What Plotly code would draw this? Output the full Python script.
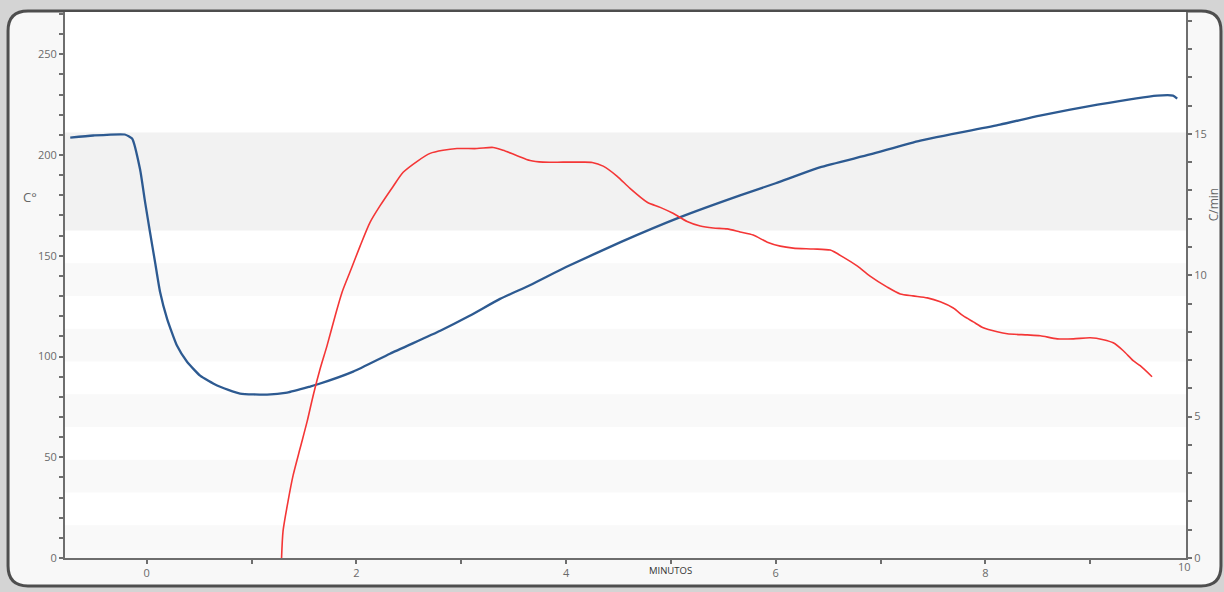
import plotly.graph_objects as go

# ---- data ----
temp_min = [-0.73, -0.51, -0.21, -0.14, -0.064, -0.016, 0.031, 0.079, 0.127, 0.194, 0.289,
            0.384, 0.509, 0.671, 0.89, 1.148, 1.339, 1.558, 1.625, 1.969, 2.32, 2.80, 3.08,
            3.37, 3.66, 4.0, 4.52, 5.09, 5.66, 6.0, 6.42, 6.90, 7.38, 8.14, 8.52, 9.07,
            9.64, 9.79, 9.83]
temp_c = [208.7, 209.7, 210.2, 208.2, 192.9, 176.6, 161.7, 146.9, 132.0, 118.7, 105.3,
          97.4, 90.5, 85.6, 81.6, 81.1, 82.1, 85.1, 86.1, 92.5, 101.4, 112.8, 120.2,
          128.6, 135.5, 144.4, 156.8, 169.2, 180.0, 186.0, 193.9, 200.3, 207.2, 215.1,
          219.6, 225.0, 229.5, 229.5, 228.0]

ror_min = [1.286, 1.30, 1.348, 1.396, 1.463, 1.53, 1.587, 1.654, 1.72, 1.797, 1.864, 1.95,
           2.035, 2.13, 2.226, 2.35, 2.446, 2.58, 2.703, 2.827, 2.96, 3.15, 3.304, 3.40,
           3.533, 3.657, 3.78, 3.97, 4.134, 4.249, 4.354, 4.488, 4.61, 4.774, 4.898, 5.02,
           5.155, 5.28, 5.404, 5.537, 5.66, 5.785, 5.92, 6.043, 6.167, 6.358, 6.52, 6.644,
           6.78, 6.9, 7.064, 7.188, 7.31, 7.446, 7.57, 7.694, 7.79, 7.885, 7.98, 8.113,
           8.209, 8.4, 8.524, 8.686, 8.84, 9.0, 9.126, 9.22, 9.316, 9.41, 9.477, 9.59]
ror_cmin = [0.0, 0.95, 2.01, 2.92, 3.88, 4.83, 5.74, 6.69, 7.51, 8.56, 9.41, 10.22,
            11.03, 11.87, 12.46, 13.14, 13.64, 14.03, 14.31, 14.42, 14.48, 14.48, 14.52, 14.42,
            14.23, 14.06, 14.0, 14.0, 14.0, 13.99, 13.86, 13.5, 13.07, 12.58, 12.4, 12.19,
            11.9, 11.74, 11.67, 11.64, 11.53, 11.42, 11.17, 11.03, 10.96, 10.93, 10.89, 10.64,
            10.32, 9.97, 9.58, 9.34, 9.27, 9.20, 9.06, 8.84, 8.56, 8.35, 8.14, 8.0,
            7.93, 7.89, 7.86, 7.75, 7.75, 7.79, 7.72, 7.61, 7.33, 6.98, 6.80, 6.41]

x_tick_vals = [0, 2, 4, 6, 8]
x_tick_text = ["0", "2", "4", "6", "8"]
y_left_ticks = [0, 50, 100, 150, 200, 250]
y_right_ticks = [0, 5, 10, 15]

# decorative band edges (left-axis units)
faint_bands = [(0, 16.25), (32.5, 48.75), (65, 81.25), (97.5, 113.75), (130, 146.25)]
main_band = (162.5, 211.25)

fig = go.Figure()
fig.add_trace(go.Scatter(x=temp_min, y=temp_c, mode="lines", yaxis="y",
                         line=dict(color="#2d5a91", width=2.3, shape="spline", smoothing=0.5),
                         showlegend=False))
fig.add_trace(go.Scatter(x=ror_min, y=ror_cmin, mode="lines", yaxis="y2",
                         line=dict(color="#f43636", width=1.6, shape="spline", smoothing=0.7),
                         showlegend=False))

shapes = []
# rounded frame
x0, x1, y0, y1 = -0.0508, 1.0312, -0.0511, 1.0018
rx, ry = 0.0178, 0.0365
path = (f"M {x0+rx},{y1} L {x1-rx},{y1} Q {x1},{y1} {x1},{y1-ry} "
        f"L {x1},{y0+ry} Q {x1},{y0} {x1-rx},{y0} L {x0+rx},{y0} "
        f"Q {x0},{y0} {x0},{y0+ry} L {x0},{y1-ry} Q {x0},{y1} {x0+rx},{y1} Z")
shapes.append(dict(type="path", path=path, xref="paper", yref="paper",
                   fillcolor="#f8f8f8", line=dict(color="#4e4e4e", width=3), layer="below"))
# plot area
shapes.append(dict(type="rect", xref="paper", yref="paper", x0=0, x1=1, y0=0, y1=1,
                   fillcolor="#ffffff", line=dict(width=0), layer="below"))
for a, b in faint_bands:
    shapes.append(dict(type="rect", xref="paper", yref="y", x0=0, x1=1, y0=a, y1=b,
                       fillcolor="#f9f9f9", line=dict(width=0), layer="below"))
shapes.append(dict(type="rect", xref="paper", yref="y", x0=0, x1=1,
                   y0=main_band[0], y1=main_band[1],
                   fillcolor="#f2f2f2", line=dict(width=0), layer="below"))

tickfont = dict(family="Open Sans", size=11, color="#6a6a6a")
axis_common = dict(showline=True, linecolor="#6e6e6e", linewidth=2, ticks="outside",
                   ticklen=4, tickwidth=1.5, tickcolor="#6e6e6e", showgrid=False,
                   zeroline=False, tickfont=tickfont, fixedrange=True)

fig.update_layout(
    width=1224, height=592,
    margin=dict(l=65, r=38, t=12, b=32),
    paper_bgcolor="#d4d4d4",
    plot_bgcolor="rgba(0,0,0,0)",
    shapes=shapes,
    xaxis=dict(range=[-0.78, 9.914], tickvals=x_tick_vals, ticktext=x_tick_text,
               minor=dict(dtick=1, tick0=0, ticks="outside", ticklen=4, tickcolor="#6e6e6e"),
               **axis_common),
    yaxis=dict(range=[0, 271], tickvals=y_left_ticks,
               minor=dict(dtick=10, tick0=0, ticks="outside", ticklen=4, tickcolor="#6e6e6e"),
               **axis_common),
    yaxis2=dict(range=[0, 19.31], tickvals=y_right_ticks, overlaying="y", side="right",
                minor=dict(dtick=1, tick0=0, ticks="outside", ticklen=4, tickcolor="#6e6e6e"),
                **axis_common),
    annotations=[
        dict(text="C°", xref="paper", yref="paper", x=-0.0312, y=0.662, showarrow=False,
             xanchor="center", yanchor="middle",
             font=dict(family="Open Sans", size=13, color="#666666")),
        dict(text="C/min", xref="paper", yref="paper", x=1.0241, y=0.646, showarrow=False,
             xanchor="center", yanchor="middle",
             textangle=-90, font=dict(family="Open Sans", size=12, color="#666666")),
        dict(text="MINUTOS", xref="x", yref="paper", x=5, y=-0.0237, showarrow=False,
             xanchor="center", yanchor="middle",
             font=dict(family="Open Sans", size=9.5, color="#333333")),
        dict(text="10", xref="paper", yref="paper", x=0.9991, y=-0.0164, showarrow=False,
             xanchor="center", yanchor="middle", font=tickfont),
    ],
)

fig.write_html("out.html", config={"displayModeBar": False},
               post_script="document.body.style.margin='0';document.body.style.overflow='hidden';")
